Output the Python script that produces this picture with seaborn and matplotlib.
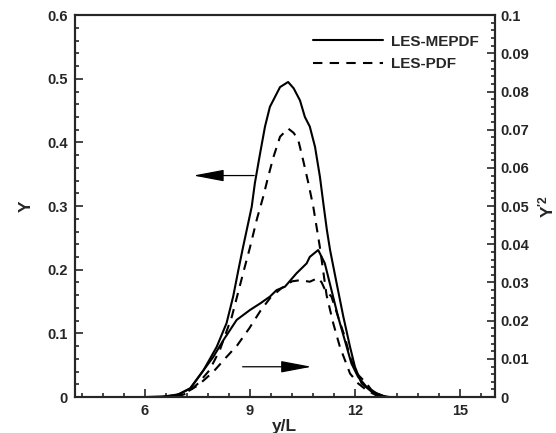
import numpy as np
import pandas as pd
import seaborn as sns
import matplotlib.pyplot as plt
from matplotlib.ticker import MultipleLocator

#%%   # data

# mean Y, LES-MEPDF (solid)
x_mean_me = [6.0, 6.5, 6.9, 7.29, 7.67, 8.05, 8.33, 8.52, 8.67, 8.8, 9.05, 9.14, 9.29, 9.43,
             9.57, 9.86, 10.09, 10.25, 10.43, 10.57, 10.71, 10.86, 11.0, 11.11, 11.2,
             11.29, 11.48, 11.67, 11.86, 12.0, 12.19, 12.48, 12.81, 13.0]
y_mean_me = [0.0, 0.001, 0.003, 0.0137, 0.042, 0.079, 0.116, 0.158, 0.2, 0.235, 0.299, 0.336,
             0.383, 0.425, 0.456, 0.487, 0.495, 0.485, 0.466, 0.44, 0.425, 0.393, 0.346,
             0.299, 0.262, 0.231, 0.178, 0.126, 0.079, 0.0476, 0.0215, 0.0083, 0.0016, 0.0]

# mean Y, LES-PDF (dashed)
x_mean_pdf = [6.9, 7.2, 7.52, 7.84, 8.14, 8.48, 8.83, 9.0, 9.2, 9.38, 9.52, 9.67, 9.86,
              10.09, 10.25, 10.38, 10.52, 10.67, 10.81, 11.0, 11.19, 11.38, 11.57, 11.86,
              12.09, 12.33, 12.6, 12.9]
y_mean_pdf = [0.0, 0.006, 0.0215, 0.042, 0.074, 0.126, 0.2, 0.235, 0.28, 0.315, 0.346, 0.377,
              0.409, 0.422, 0.415, 0.404, 0.372, 0.336, 0.299, 0.235, 0.16, 0.116, 0.079,
              0.037, 0.0215, 0.011, 0.003, 0.0]

# variance Y'2, LES-MEPDF (solid)
x_var_me = [6.5, 7.0, 7.3, 7.67, 7.95, 8.24, 8.62, 9.0, 9.29, 9.57, 9.76, 10.0, 10.33,
            10.62, 10.71, 10.95, 11.14, 11.33, 11.52, 11.71, 11.9, 12.09, 12.33, 12.62, 12.9]
y_var_me = [0.0, 0.0008, 0.0023, 0.007, 0.0105, 0.0149, 0.0202, 0.0228, 0.0245, 0.0263,
            0.028, 0.0289, 0.0324, 0.035, 0.0367, 0.0385, 0.035, 0.028, 0.021, 0.0149,
            0.0088, 0.0053, 0.0027, 0.001, 0.0]

# variance Y'2, LES-PDF (dashed)
x_var_pdf = [6.8, 7.1, 7.52, 7.95, 8.33, 8.64, 8.98, 9.3, 9.59, 9.9, 10.2, 10.43, 10.71,
             10.95, 11.05, 11.15, 11.33, 11.52, 11.71, 11.86, 12.05, 12.33, 12.5, 12.7]
y_var_pdf = [0.0, 0.0008, 0.0031, 0.0066, 0.0105, 0.0136, 0.018, 0.0226, 0.0261, 0.0285,
             0.0303, 0.0306, 0.0302, 0.0312, 0.03, 0.028, 0.0263, 0.021, 0.0158, 0.0105,
             0.0062, 0.0036, 0.0015, 0.0]

labels = ['LES-MEPDF', 'LES-PDF']

#%%   # tables for seaborn

mean_df = pd.concat([
    pd.DataFrame({'x': x_mean_me, 'v': y_mean_me, 'model': labels[0]}),
    pd.DataFrame({'x': x_mean_pdf, 'v': y_mean_pdf, 'model': labels[1]}),
])
var_df = pd.concat([
    pd.DataFrame({'x': x_var_me, 'v': y_var_me, 'model': labels[0]}),
    pd.DataFrame({'x': x_var_pdf, 'v': y_var_pdf, 'model': labels[1]}),
])

#%%   # plot

sns.set_style('ticks')
plt.rcParams['font.family'] = ['Liberation Sans', 'DejaVu Sans']
plt.rcParams['font.weight'] = 'bold'
plt.rcParams['axes.labelweight'] = 'bold'
plt.rcParams['mathtext.fontset'] = 'custom'
plt.rcParams['mathtext.rm'] = 'Liberation Sans:bold'
plt.rcParams['mathtext.it'] = 'Liberation Sans:bold'

fig, ax = plt.subplots(figsize=(5.56, 4.33), dpi=100)
fig.subplots_adjust(left=0.135, right=0.89, bottom=0.083, top=0.965)
ax2 = ax.twinx()

styles = {labels[0]: '', labels[1]: (4.5, 3.5)}
sns.lineplot(data=mean_df, x='x', y='v', style='model', style_order=labels, dashes=styles,
             color='black', lw=1.5, sort=False, estimator=None, ax=ax)
sns.lineplot(data=var_df, x='x', y='v', style='model', style_order=labels, dashes=styles,
             color='black', lw=1.5, sort=False, estimator=None, ax=ax2, legend=False)

ax.set_xlim(4, 16)
ax.set_ylim(0, 0.6)
ax2.set_ylim(0, 0.1)

ax.xaxis.set_major_locator(MultipleLocator(3))
ax.xaxis.set_minor_locator(MultipleLocator(0.6))
ax.yaxis.set_major_locator(MultipleLocator(0.1))
ax.yaxis.set_minor_locator(MultipleLocator(0.02))
ax2.yaxis.set_major_locator(MultipleLocator(0.01))
ax2.yaxis.set_minor_locator(MultipleLocator(0.002))
ax.yaxis.set_major_formatter(lambda v, p: '0' if v == 0 else f'{v:g}')
ax2.yaxis.set_major_formatter(lambda v, p: '0' if v == 0 else f'{v:g}')

ax.tick_params(which='both', direction='in', top=False, right=False, labelsize=10.5, width=1.2)
ax.tick_params(which='major', length=5.5, pad=5)
ax.tick_params(which='minor', length=3)
ax2.tick_params(which='both', direction='in', labelsize=10.5, width=1.2)
ax2.tick_params(which='major', length=5.5, pad=4)
ax2.tick_params(which='minor', length=3)

for a in (ax, ax2):
    for s in a.spines.values():
        s.set_linewidth(1.5)

ax.set_xlabel('y/L', fontsize=12.5, labelpad=0.5)
ax.set_ylabel('Y', fontsize=12.5, labelpad=10)
ax2.set_ylabel("Y$^{\\prime 2}$", fontsize=12.5, labelpad=5)

# arrows pointing to the axis each family belongs to
ax.annotate('', xy=(7.38, 0.348), xytext=(9.12, 0.348),
            arrowprops=dict(arrowstyle='-|>,head_length=1.9,head_width=0.36',
                            color='black', lw=0.9, shrinkA=0, shrinkB=0))
ax.annotate('', xy=(10.76, 0.0476), xytext=(8.79, 0.0476),
            arrowprops=dict(arrowstyle='-|>,head_length=1.9,head_width=0.36',
                            color='black', lw=0.9, shrinkA=0, shrinkB=0))

leg = ax.legend(loc='upper right', bbox_to_anchor=(0.995, 0.985), frameon=False,
                fontsize=11, handlelength=4.6, handletextpad=0.55, labelspacing=0.55)
for h in leg.get_lines():
    h.set_linewidth(1.5)

fig.savefig('out.png', dpi=100)
